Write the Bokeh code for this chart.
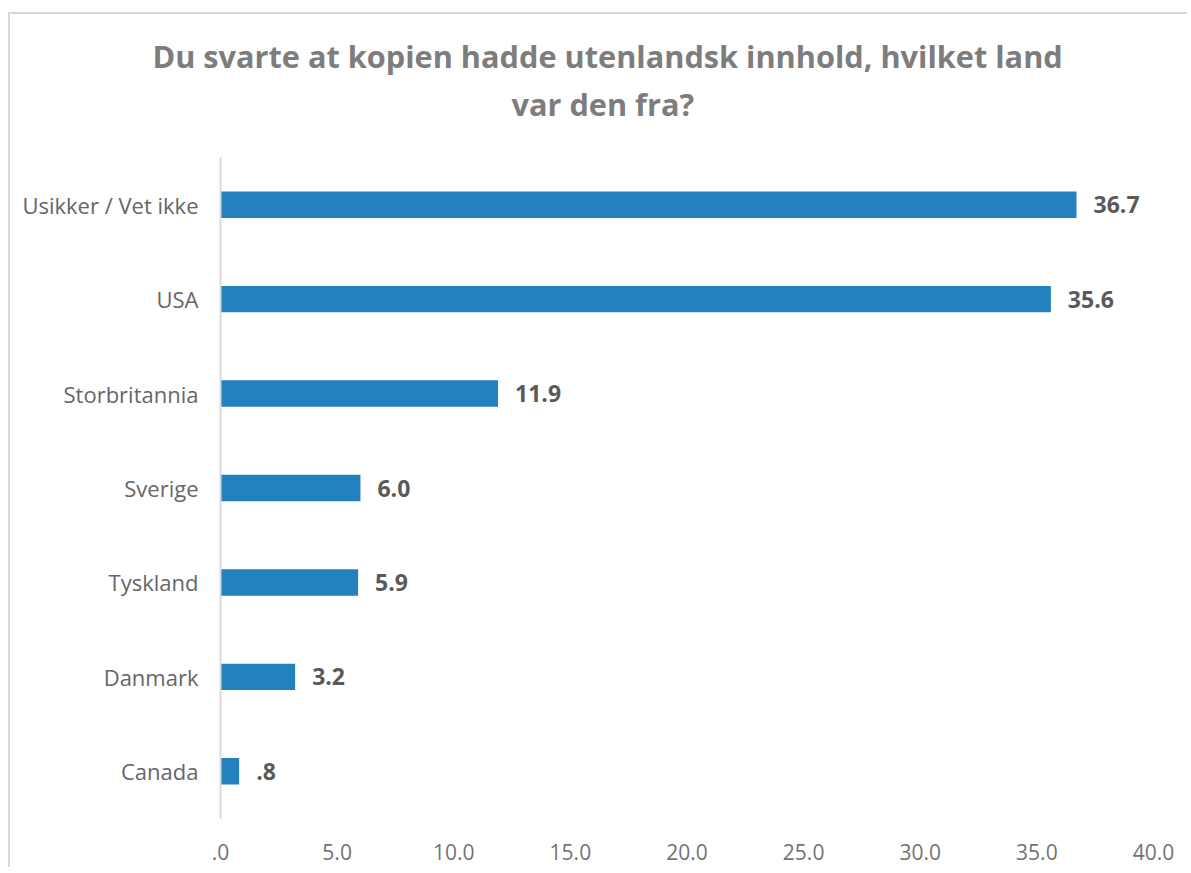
from bokeh.plotting import figure
from bokeh.models import FactorRange, Range1d, FixedTicker, ColumnDataSource, Title
from bokeh.embed import file_html
from bokeh.resources import INLINE
from bokeh.core.properties import value

# ---- data ----
categories = ["Usikker / Vet ikke", "USA", "Storbritannia", "Sverige", "Tyskland", "Danmark", "Canada"]
percent = [36.7, 35.6, 11.9, 6.0, 5.9, 3.2, 0.8]
x_ticks = [0, 5, 10, 15, 20, 25, 30, 35, 40]
x_tick_labels = [".0", "5.0", "10.0", "15.0", "20.0", "25.0", "30.0", "35.0", "40.0"]
title_lines = ["Du svarte at kopien hadde utenlandsk innhold, hvilket land", "var den fra?"]

FONT = "Open Sans"
BAR = "#2481c0"

W, H = 1179, 855
p = figure(width=W, height=H, title=None,
           y_range=FactorRange(factors=categories[::-1], range_padding=0),
           x_range=Range1d(0, 40),
           output_backend="svg", toolbar_location=None,
           min_border_left=210, min_border_right=36,
           min_border_top=143, min_border_bottom=51)
p.styles = {"border-left": "2px solid #d9d9d9", "border-top": "2px solid #d9d9d9",
            "margin-top": "12px", "margin-left": "8px"}
p.outline_line_color = None
p.xgrid.grid_line_color = None
p.ygrid.grid_line_color = None
p.background_fill_color = "white"
p.border_fill_color = "white"

# small spacer between frame and title (added first -> closest to the frame)
p.add_layout(Title(text=" ", standoff=19.6, text_font=FONT, text_font_size="5px"), "above")
# title: two lines, each roughly centred on the canvas
for txt, off, so in [(title_lines[1], 291, 9), (title_lines[0], -68, 0)]:
    p.add_layout(Title(text=txt, align="left", offset=off, standoff=so,
                       text_font=FONT, text_font_style="bold",
                       text_font_size="30.7px", text_color="#7d7d7d"), "above")

labels = [(f"{v:.1f}"[1:] if v < 1 else f"{v:.1f}") for v in percent]
src = ColumnDataSource(dict(cat=categories, val=percent, lab=labels))
p.hbar(y="cat", right="val", left=0, height=0.28, source=src,
       fill_color=BAR, line_color=None)
p.text(x="val", y="cat", text="lab", source=src, x_offset=17,
       text_align="left", text_baseline="middle",
       text_font=value(FONT), text_font_style="bold",
       text_font_size="23px", text_color="#595959")

# axes
xa = p.xaxis[0]
xa.ticker = FixedTicker(ticks=x_ticks)
xa.major_label_overrides = {t: l for t, l in zip(x_ticks, x_tick_labels)}
xa.axis_line_color = None
xa.major_tick_line_color = None
xa.minor_tick_line_color = None
xa.major_label_standoff = 19
xa.major_label_text_font = FONT
xa.major_label_text_font_size = "21px"
xa.major_label_text_color = "#737373"

ya = p.yaxis[0]
ya.axis_line_color = "#d9d9d9"
ya.axis_line_width = 2
ya.major_tick_line_color = None
ya.minor_tick_line_color = None
ya.major_tick_out = 0
ya.major_label_standoff = 22
ya.major_label_text_font = FONT
ya.major_label_text_font_size = "22px"
ya.major_label_text_color = "#666666"

open("out.html", "w").write(file_html(p, INLINE))
